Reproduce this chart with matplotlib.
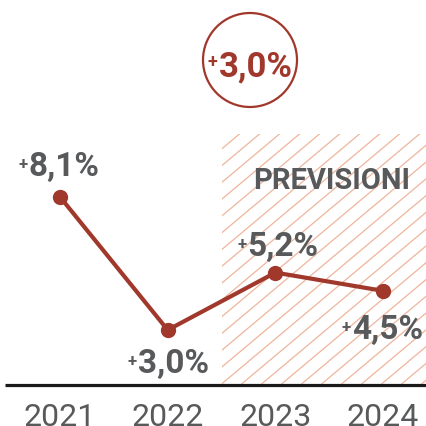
import numpy as np
import matplotlib.pyplot as plt
from matplotlib.patches import Circle, Rectangle

years = [2021, 2022, 2023, 2024]
growth = [8.1, 3.0, 5.2, 4.5]
labels = ["8,1%", "3,0%", "5,2%", "4,5%"]
year_labels = ["2021", "2022", "2023", "2024"]
average_label = "3,0%"
forecast_label = "PREVISIONI"
forecast_from = 2023

RED = "#a0382c"
GRAY = "#58595b"
HATCH = "#efb59c"
FONT = "Roboto"

W = H = 427
fig = plt.figure(figsize=(4.27, 4.27), dpi=100)

# pixel overlay for decorations (hatch, circle, baseline)
bg = fig.add_axes([0, 0, 1, 1], zorder=0)
bg.set_xlim(0, W)
bg.set_ylim(H, 0)
bg.axis("off")

# data axes on top
ax = fig.add_axes([0, 0, 1, 1], zorder=1)
ax.patch.set_alpha(0)
px_year = 107.7
px_unit = 26.1
ax.set_xlim(2021 - 60 / px_year, 2021 + (W - 60) / px_year)
ax.set_ylim(3.0 - (H - 331) / px_unit, 3.0 + 331 / px_unit)
ax.axis("off")

# forecast area with diagonal hatch
def to_px(x, y):
    disp = ax.transData.transform((x, y))
    return bg.transData.inverted().transform(disp)

x0 = to_px(forecast_from - 0.5, 0)[0]
x1, top, bottom = W, 135, 385
clip = Rectangle((x0, top), x1 - x0, bottom - top, transform=bg.transData,
                 facecolor="none", edgecolor="none")
bg.add_patch(clip)
slope = np.tan(np.radians(40))
step = 20
for start in np.arange(x0 - 300, x1 + 20, step):
    ln, = bg.plot([start, start + 300], [bottom, bottom - 300 * slope],
                  color=HATCH, lw=0.9, solid_capstyle="butt")
    ln.set_clip_path(clip)

bg.text(410, 189, forecast_label, ha="right", va="baseline",
        fontsize=21, fontweight="bold", color=GRAY, family=FONT)

# baseline
bg.plot([5, W], [386, 386], color="#1a1a1a", lw=2.3, solid_capstyle="butt")

# average badge
bg.add_patch(Circle((250, 61), 47, facecolor="none", edgecolor=RED, lw=1.6))
bg.text(219, 76, average_label, ha="left", va="baseline", fontsize=25,
        fontweight="bold", color=RED, family=FONT)
bg.text(217, 62, "+", ha="right", va="center", fontsize=13,
        fontweight="bold", color=RED, family=FONT)

# growth line
ax.plot(years, growth, color=RED, lw=3, marker="o", markersize=10,
        solid_capstyle="round")

offsets = [(-31, 22), (-30, -42), (-28, 18), (-31, -47)]
for x, y, lab, (dx, dy) in zip(years, growth, labels, offsets):
    ax.annotate(lab, (x, y), xytext=(dx, dy), textcoords="offset pixels",
                ha="left", va="baseline", fontsize=24, fontweight="bold",
                color=GRAY, family=FONT)
    ax.annotate("+", (x, y), xytext=(dx - 1, dy + 11), textcoords="offset pixels",
                ha="right", va="center", fontsize=12, fontweight="bold",
                color=GRAY, family=FONT)

for x, lab in zip(years, year_labels):
    xp = to_px(x, 0)[0]
    bg.text(xp, 426, lab, ha="center", va="baseline", fontsize=23,
            fontweight="normal", color=GRAY, family=FONT)

fig.savefig("out.png", dpi=100)
